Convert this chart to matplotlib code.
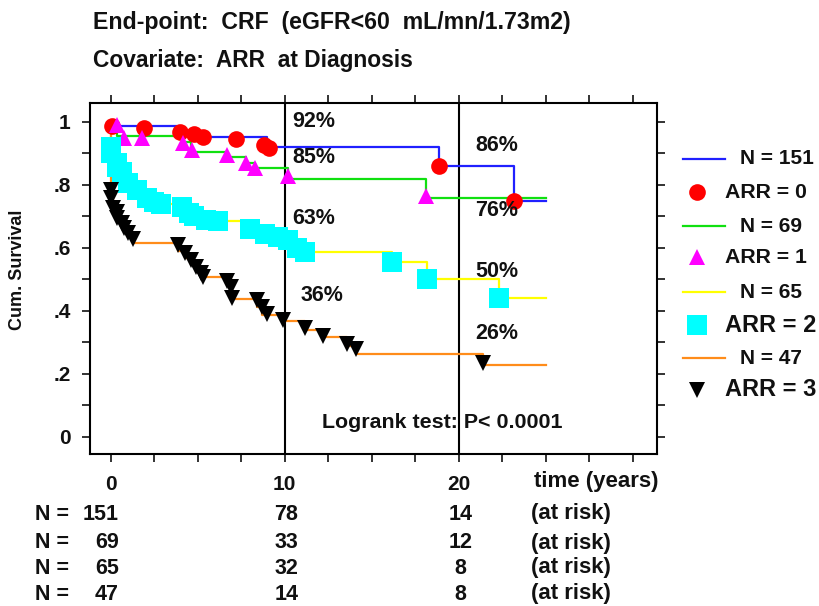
import numpy as np
import matplotlib
matplotlib.use('Agg')
import matplotlib.pyplot as plt
from matplotlib.lines import Line2D

plt.rcParams['font.family'] = ['Liberation Sans', 'DejaVu Sans']
plt.rcParams['font.weight'] = 'bold'

# Kaplan-Meier steps (time in years, survival after each drop)
end_time = 25.0

t_arr0 = [0.1, 4.0, 5.2, 9.0, 18.9, 23.2]
s_arr0 = [0.987, 0.965, 0.952, 0.92, 0.86, 0.75]
mt_arr0 = [0.1, 1.9, 4.0, 4.8, 5.3, 7.2, 8.8, 9.1, 18.9, 23.2]
ms_arr0 = [0.987, 0.98, 0.968, 0.963, 0.952, 0.945, 0.928, 0.918, 0.86, 0.75]

t_arr1 = [0.4, 4.1, 4.6, 6.7, 7.8, 8.3, 10.2, 18.1]
s_arr1 = [0.955, 0.935, 0.905, 0.89, 0.87, 0.854, 0.82, 0.76]
mt_arr1 = [0.4, 0.8, 1.8, 4.15, 4.7, 6.7, 7.8, 8.3, 10.2, 18.1]
ms_arr1 = [0.99, 0.95, 0.95, 0.933, 0.91, 0.895, 0.87, 0.855, 0.83, 0.765]

t_arr2 = [0.0, 0.05, 0.35, 0.4, 0.65, 1.0, 1.5, 2.1, 2.5, 2.9, 4.1, 4.5, 4.8,
          5.5, 6.2, 8.0, 8.9, 9.6, 10.2, 10.7, 11.2, 16.2, 18.2, 22.3]
s_arr2 = [0.92, 0.9, 0.87, 0.857, 0.84, 0.806, 0.784, 0.76, 0.746, 0.74, 0.73, 0.71, 0.70,
          0.69, 0.686, 0.66, 0.645, 0.635, 0.625, 0.60, 0.587, 0.556, 0.50, 0.44]
mt_arr2 = t_arr2
ms_arr2 = s_arr2

t_arr3 = [0.0, 0.05, 0.15, 0.35, 0.4, 0.65, 0.8, 1.0, 1.3, 3.9, 4.3, 4.6, 4.9, 5.2,
          6.9, 7.0, 8.4, 8.7, 9.9, 11.2, 12.2, 13.6, 14.1, 21.4]
s_arr3 = [0.784, 0.76, 0.727, 0.714, 0.695, 0.68, 0.663, 0.648, 0.616, 0.59, 0.568, 0.545,
          0.525, 0.508, 0.476, 0.438, 0.413, 0.387, 0.368, 0.34, 0.317, 0.29, 0.263, 0.229]
mt_arr3 = [0.0, 0.05, 0.15, 0.35, 0.4, 0.65, 0.8, 1.0, 1.3, 3.9, 4.3, 4.6, 4.9, 5.2, 5.3,
           6.7, 6.9, 7.0, 8.4, 8.7, 9.0, 9.9, 11.2, 12.2, 13.6, 14.1, 21.4]
ms_arr3 = [0.784, 0.76, 0.727, 0.714, 0.695, 0.68, 0.663, 0.648, 0.63, 0.61, 0.584, 0.562,
           0.54, 0.52, 0.508, 0.495, 0.476, 0.44, 0.435, 0.413, 0.39, 0.37, 0.345, 0.32,
           0.295, 0.28, 0.235]

group_n = [151, 69, 65, 47]
line_colors = ['#2020ff', '#10e010', '#ffff00', '#ff8c1a']
marker_colors = ['#ff0000', '#ff00ff', '#00ffff', '#000000']
markers = ['o', '^', 's', 'v']
marker_sizes = [12, 12, 14, 12]

# percentages written at 10 and 20 years
pct_10 = ['92%', '85%', '63%', '36%']
pct_10_y = [1.003, 0.886, 0.695, 0.45]
pct_10_x = [10.45, 10.45, 10.45, 10.9]
pct_20 = ['86%', '76%', '50%', '26%']
pct_20_y = [0.924, 0.72, 0.524, 0.33]

# numbers at risk
risk_times = [0, 10, 20]
at_risk = [[151, 78, 14], [69, 33, 12], [65, 32, 8], [47, 14, 8]]

steps_t = [t_arr0, t_arr1, t_arr2, t_arr3]
steps_s = [s_arr0, s_arr1, s_arr2, s_arr3]
marks_t = [mt_arr0, mt_arr1, mt_arr2, mt_arr3]
marks_s = [ms_arr0, ms_arr1, ms_arr2, ms_arr3]

W, H = 820, 606
ink = '#111111'
fig = plt.figure(figsize=(W / 100, H / 100), dpi=100)


def fx(x):
    return x / W


def fy(y):
    return 1 - y / H


ax = fig.add_axes([fx(90), fy(454), fx(657) - fx(90), fy(103) - fy(454)])

for i in range(4):
    xs = [0] + list(steps_t[i]) + [end_time]
    ys = [1.0] + list(steps_s[i]) + [steps_s[i][-1]]
    ax.plot(xs, ys, drawstyle='steps-post', color=line_colors[i], lw=1.6, zorder=2)
for i in range(4):
    ax.plot(marks_t[i], marks_s[i], linestyle='none', marker=markers[i],
            color=marker_colors[i], markersize=marker_sizes[i], markeredgewidth=0, zorder=3)

ax.axvline(10, color='black', lw=1.5, zorder=1)
ax.axvline(20, color='black', lw=1.5, zorder=1)

for lab, xx, yy in zip(pct_10, pct_10_x, pct_10_y):
    ax.text(xx, yy, lab, fontsize=15.5, ha='left', va='center', color=ink)
for lab, yy in zip(pct_20, pct_20_y):
    ax.text(20.95, yy, lab, fontsize=15.5, ha='left', va='center', color=ink)

ax.text(12.15, 0.047, 'Logrank test: P< 0.0001', fontsize=15.4, ha='left', va='center',
        color=ink)

ax.set_xlim(-1.18, 31.4)
ax.set_ylim(-0.054, 1.0603)
xt = np.arange(0, 31, 2.5)
ax.set_xticks(xt)
ax.set_xticklabels([('%d' % v) if v in (0, 10, 20) else '' for v in xt])
ax.set_yticks(np.arange(0, 1.01, 0.1))
ylabs = []
for v in np.arange(0, 1.01, 0.1):
    k = int(round(v * 10))
    if k == 0:
        ylabs.append('0')
    elif k == 10:
        ylabs.append('1')
    elif k % 2 == 0:
        ylabs.append('.%d' % k)
    else:
        ylabs.append('')
ax.set_yticklabels(ylabs)
ax.tick_params(direction='out', length=6, width=1.2, top=True, right=True,
               labelsize=15, colors=ink)
ax.tick_params(axis='x', pad=9)
ax.tick_params(axis='y', pad=8)
for sp in ax.spines.values():
    sp.set_linewidth(1.5)
ax.set_ylabel('Cum. Survival', fontsize=13, fontweight='bold', color=ink)
ax.yaxis.set_label_coords((26 - 90) / 567, (454 - 270) / 351)

# header
fig.text(fx(93), fy(22), 'End-point:  CRF  (eGFR<60  mL/mn/1.73m2)', fontsize=16.7,
         va='center', ha='left', color=ink)
fig.text(fx(93), fy(60), 'Covariate:  ARR  at Diagnosis', fontsize=16.4,
         va='center', ha='left', color=ink)

# legend drawn by hand on the right
leg_y = [159, 192, 226, 257, 292, 325, 358, 390]
for i in range(4):
    yl = leg_y[2 * i]
    ym = leg_y[2 * i + 1]
    fig.add_artist(Line2D([fx(683), fx(725)], [fy(yl), fy(yl)], color=line_colors[i], lw=1.6))
    fig.text(fx(740), fy(yl), 'N = %d' % group_n[i], fontsize=15, va='center', ha='left',
             color=ink)
    fig.add_artist(Line2D([fx(697)], [fy(ym)], marker=markers[i], color=marker_colors[i],
                          markersize=marker_sizes[i], markeredgewidth=0, linestyle='none'))
    fig.text(fx(725), fy(ym), 'ARR = %d' % i, fontsize=15.3 if i < 2 else 17, va='center',
             ha='left', color=ink)

# at risk table
fig.text(fx(534), fy(482), 'time (years)', fontsize=16, va='center', ha='left', color=ink)
row_y = [514, 543, 568, 594]
for r in range(4):
    fig.text(fx(35), fy(row_y[r]), 'N =', fontsize=15.5, va='center', ha='left', color=ink)
    for c, tt in enumerate(risk_times):
        xpix = 110.5 + tt * 17.4
        if c == 0:
            fig.text(fx(119), fy(row_y[r]), str(at_risk[r][c]), fontsize=15.5, va='center',
                     ha='right', color=ink)
        else:
            fig.text(fx(xpix + 2), fy(row_y[r]), str(at_risk[r][c]), fontsize=15.5,
                     va='center', ha='center', color=ink)
    fig.text(fx(531), fy(row_y[r]), '(at risk)', fontsize=16, va='center', ha='left',
             color=ink)

fig.savefig('out.png', dpi=100)
